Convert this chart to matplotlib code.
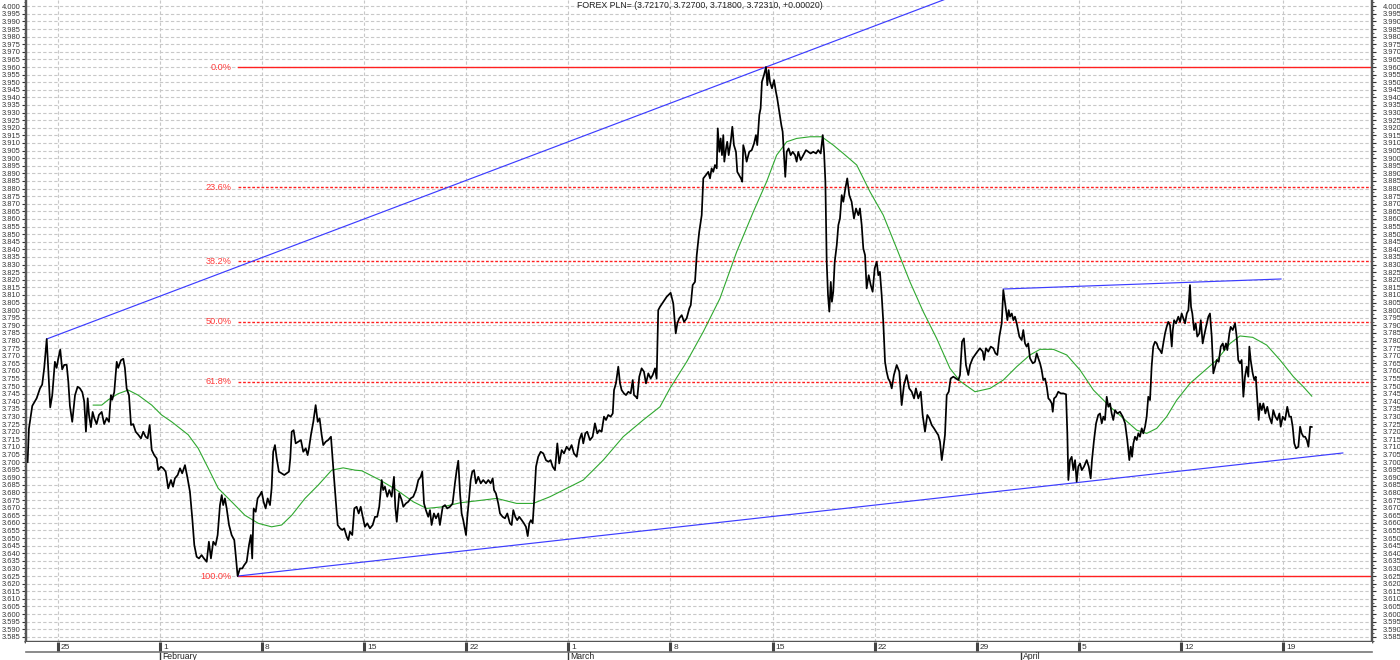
import numpy as np
import matplotlib
matplotlib.use('Agg')
import matplotlib.pyplot as plt
import matplotlib.transforms as mtransforms
from matplotlib.ticker import MultipleLocator, FixedLocator, FormatStrFormatter

plt.rcParams['font.family'] = ['Liberation Sans', 'DejaVu Sans']

# ------------------------------------------------------------------
# data (x = days since Jan 25, y = PLN= quote)
# ------------------------------------------------------------------
price_day = [
    -2.08, -1.99, -1.76, -1.46, -1.23, -1.08, -0.94, -0.77, -0.67, -0.53, -0.39, -0.21, -0.09, 0.02, 0.16,
    0.29, 0.43, 0.60, 0.71, 0.82, 0.98, 1.17, 1.35, 1.51, 1.67, 1.80, 1.92, 2.04, 2.13, 2.26,
    2.38, 2.49, 2.65, 2.81, 3.00, 3.17, 3.34, 3.50, 3.63, 3.72, 3.86, 4.03, 4.13, 4.32, 4.48,
    4.59, 4.71, 4.87, 5.01, 5.16, 5.33, 5.51, 5.69, 5.85, 6.01, 6.15, 6.29, 6.43, 6.60, 6.77,
    6.88, 7.06, 7.22, 7.39, 7.56, 7.75, 7.89, 8.02, 8.21, 8.37, 8.52, 8.71, 8.89, 9.05, 9.21,
    9.35, 9.51, 9.67, 9.85, 10.01, 10.20, 10.35, 10.49, 10.65, 10.81, 10.95, 11.11, 11.23, 11.33, 11.45,
    11.57, 11.73, 11.91, 12.09, 12.19, 12.32, 12.48, 12.64, 12.77, 12.94, 13.10, 13.23, 13.32, 13.42, 13.56,
    13.69, 13.85, 13.97, 14.10, 14.24, 14.38, 14.54, 14.65, 14.76, 14.88, 15.00, 15.15, 15.34, 15.52, 15.68,
    15.84, 15.93, 16.03, 16.16, 16.30, 16.48, 16.66, 16.82, 16.99, 17.12, 17.21, 17.35, 17.51, 17.67, 17.81,
    17.94, 18.08, 18.19, 18.36, 18.53, 18.72, 18.88, 19.04, 19.18, 19.34, 19.49, 19.63, 19.80, 19.91, 20.02,
    20.18, 20.32, 20.48, 20.62, 20.76, 20.90, 21.05, 21.21, 21.39, 21.58, 21.74, 21.89, 22.03, 22.20, 22.30,
    22.42, 22.58, 22.72, 22.88, 23.04, 23.13, 23.23, 23.40, 23.57, 23.68, 23.86, 24.02, 24.18, 24.36, 24.55,
    24.71, 24.87, 24.98, 25.10, 25.23, 25.39, 25.51, 25.62, 25.78, 25.92, 26.08, 26.19, 26.38, 26.54, 26.69,
    26.88, 27.06, 27.22, 27.34, 27.45, 27.57, 27.68, 27.79, 27.98, 28.07, 28.20, 28.30, 28.41, 28.53, 28.66,
    28.82, 28.99, 29.16, 29.35, 29.51, 29.67, 29.81, 29.90, 30.03, 30.19, 30.31, 30.49, 30.65, 30.81, 30.99,
    31.11, 31.22, 31.36, 31.49, 31.63, 31.80, 31.95, 32.09, 32.21, 32.32, 32.43, 32.55, 32.64, 32.78, 32.93,
    33.10, 33.28, 33.46, 33.62, 33.78, 33.92, 34.08, 34.24, 34.37, 34.54, 34.70, 34.88, 35.06, 35.22, 35.38,
    35.57, 35.75, 35.91, 36.02, 36.16, 36.29, 36.48, 36.66, 36.82, 36.98, 37.12, 37.28, 37.44, 37.58, 37.73,
    37.90, 38.04, 38.13, 38.26, 38.42, 38.54, 38.65, 38.81, 38.95, 39.11, 39.27, 39.41, 39.50, 39.63, 39.72,
    39.86, 40.02, 40.18, 40.32, 40.48, 40.64, 40.78, 40.94, 41.05, 41.16, 41.28, 41.51, 41.74, 42.01, 42.19,
    42.36, 42.47, 42.60, 42.77, 42.93, 43.11, 43.29, 43.39, 43.52, 43.68, 43.80, 43.97, 44.14, 44.25, 44.43,
    44.59, 44.71, 44.82, 44.93, 45.05, 45.17, 45.24, 45.35, 45.44, 45.53, 45.62, 45.69, 45.81, 45.89, 45.99,
    46.13, 46.24, 46.35, 46.49, 46.58, 46.70, 46.83, 46.92, 46.99, 47.11, 47.22, 47.40, 47.57, 47.73, 47.86,
    47.95, 48.09, 48.18, 48.27, 48.41, 48.55, 48.64, 48.73, 48.82, 48.96, 49.10, 49.23, 49.32, 49.46, 49.60,
    49.69, 49.78, 49.87, 49.97, 50.10, 50.24, 50.38, 50.54, 50.65, 50.76, 50.93, 51.11, 51.29, 51.45, 51.61,
    51.79, 51.98, 52.13, 52.30, 52.44, 52.53, 52.62, 52.71, 52.80, 52.89, 52.99, 53.07, 53.16, 53.26, 53.40,
    53.51, 53.62, 53.74, 53.85, 53.99, 54.12, 54.26, 54.42, 54.58, 54.72, 54.88, 54.99, 55.11, 55.22, 55.34,
    55.45, 55.59, 55.73, 55.86, 56.00, 56.14, 56.25, 56.36, 56.48, 56.59, 56.71, 56.82, 56.93, 57.05, 57.17,
    57.32, 57.51, 57.69, 57.85, 58.01, 58.19, 58.37, 58.54, 58.70, 58.83, 58.99, 59.16, 59.29, 59.45, 59.61,
    59.75, 59.91, 60.07, 60.21, 60.36, 60.48, 60.60, 60.71, 60.82, 60.94, 61.08, 61.21, 61.39, 61.58, 61.74,
    61.85, 61.99, 62.12, 62.26, 62.42, 62.54, 62.72, 62.88, 63.04, 63.22, 63.41, 63.50, 63.63, 63.79, 63.96,
    64.14, 64.28, 64.41, 64.55, 64.71, 64.82, 65.01, 65.10, 65.19, 65.28, 65.40, 65.51, 65.62, 65.74, 65.92,
    66.08, 66.19, 66.31, 66.42, 66.53, 66.65, 66.84, 66.99, 67.11, 67.22, 67.34, 67.45, 67.56, 67.68, 67.80,
    67.91, 68.02, 68.14, 68.21, 68.30, 68.43, 68.59, 68.76, 68.93, 69.12, 69.21, 69.28, 69.39, 69.51, 69.62,
    69.74, 69.85, 69.96, 70.08, 70.20, 70.35, 70.54, 70.68, 70.81, 70.90, 71.04, 71.18, 71.33, 71.45, 71.57,
    71.68, 71.79, 71.91, 72.02, 72.14, 72.25, 72.36, 72.48, 72.64, 72.82, 73.01, 73.17, 73.32, 73.46, 73.56,
    73.65, 73.74, 73.85, 73.97, 74.08, 74.19, 74.31, 74.42, 74.54, 74.65, 74.76, 74.88, 74.99, 75.10, 75.22,
    75.34, 75.45, 75.56, 75.68, 75.79, 75.91, 76.02, 76.13, 76.25, 76.37, 76.44, 76.53, 76.66, 76.82, 76.94,
    77.05, 77.16, 77.28, 77.40, 77.51, 77.62, 77.69, 77.78, 77.90, 78.01, 78.12, 78.26, 78.36, 78.49, 78.58,
    78.72, 78.88, 78.99, 79.11, 79.22, 79.34, 79.46, 79.59, 79.73, 79.87, 79.96, 80.09, 80.18, 80.32, 80.41,
    80.55, 80.71, 80.82, 80.93, 81.05, 81.16, 81.28, 81.39, 81.51, 81.62, 81.69, 81.78, 81.92, 82.03, 82.13,
    82.24, 82.33, 82.42, 82.54, 82.65, 82.79, 82.92, 83.06, 83.22, 83.33, 83.47, 83.61, 83.75, 83.84, 83.98,
    84.14, 84.29, 84.43, 84.55, 84.66, 84.77, 84.89, 85.05, 85.17, 85.28, 85.40, 85.51, 85.63, 85.74, 85.86,
    85.97,
]
price_val = [
    3.7000, 3.7220, 3.7370, 3.7420, 3.7485, 3.7510, 3.7620, 3.7810, 3.7620, 3.7360, 3.7440, 3.7660, 3.7620, 3.7680, 3.7740,
    3.7610, 3.7640, 3.7640, 3.7530, 3.7370, 3.7265, 3.7440, 3.7496, 3.7485, 3.7460, 3.7400, 3.7200, 3.7420, 3.7310, 3.7230,
    3.7330, 3.7290, 3.7250, 3.7310, 3.7330, 3.7250, 3.7290, 3.7265, 3.7440, 3.7410, 3.7460, 3.7660, 3.7620, 3.7670, 3.7680,
    3.7620, 3.7485, 3.7440, 3.7244, 3.7250, 3.7200, 3.7180, 3.7156, 3.7200, 3.7167, 3.7156, 3.7244, 3.7080, 3.7046, 3.7024,
    3.6947, 3.6970, 3.6959, 3.6937, 3.6827, 3.6882, 3.6838, 3.6893, 3.6915, 3.6959, 3.6926, 3.6980, 3.6893, 3.6805, 3.6630,
    3.6454, 3.6377, 3.6366, 3.6388, 3.6366, 3.6344, 3.6476, 3.6366, 3.6476, 3.6454, 3.6520, 3.6717, 3.6783, 3.6717, 3.6761,
    3.6695, 3.6586, 3.6520, 3.6487, 3.6388, 3.6250, 3.6300, 3.6300, 3.6322, 3.6344, 3.6454, 3.6520, 3.6366, 3.6695, 3.6673,
    3.6761, 3.6783, 3.6805, 3.6739, 3.6695, 3.6761, 3.6717, 3.6827, 3.7068, 3.7112, 3.7024, 3.6937, 3.6926, 3.6915, 3.6926,
    3.6937, 3.7024, 3.7200, 3.7210, 3.7123, 3.7134, 3.7145, 3.7068, 3.7090, 3.7046, 3.7090, 3.7180, 3.7265, 3.7375, 3.7265,
    3.7288, 3.7180, 3.7112, 3.7134, 3.7145, 3.7167, 3.6959, 3.6761, 3.6586, 3.6564, 3.6553, 3.6564, 3.6509, 3.6487, 3.6542,
    3.6520, 3.6695, 3.6706, 3.6662, 3.6706, 3.6640, 3.6574, 3.6597, 3.6564, 3.6586, 3.6640, 3.6640, 3.6706, 3.6882, 3.6816,
    3.6838, 3.6772, 3.6816, 3.6772, 3.6903, 3.6706, 3.6607, 3.6794, 3.6750, 3.6706, 3.6728, 3.6739, 3.6761, 3.6772, 3.6816,
    3.6882, 3.6903, 3.6937, 3.6728, 3.6684, 3.6640, 3.6684, 3.6586, 3.6662, 3.6630, 3.6662, 3.6586, 3.6706, 3.6717, 3.6695,
    3.6706, 3.6728, 3.6860, 3.6947, 3.7009, 3.6794, 3.6662, 3.6618, 3.6520, 3.6640, 3.6772, 3.6882, 3.6937, 3.6947, 3.6860,
    3.6903, 3.6860, 3.6882, 3.6860, 3.6882, 3.6860, 3.6893, 3.6816, 3.6794, 3.6728, 3.6662, 3.6640, 3.6630, 3.6662, 3.6597,
    3.6586, 3.6684, 3.6640, 3.6618, 3.6640, 3.6618, 3.6597, 3.6574, 3.6513, 3.6597, 3.6618, 3.6597, 3.6728, 3.6970, 3.7035,
    3.7068, 3.7057, 3.7013, 3.7002, 3.7013, 3.6970, 3.6947, 3.7123, 3.6991, 3.7079, 3.7057, 3.7101, 3.7079, 3.7112, 3.7057,
    3.7035, 3.7145, 3.7189, 3.7123, 3.7189, 3.7200, 3.7145, 3.7167, 3.7255, 3.7189, 3.7210, 3.7200, 3.7299, 3.7277, 3.7310,
    3.7299, 3.7320, 3.7474, 3.7518, 3.7628, 3.7518, 3.7474, 3.7452, 3.7441, 3.7463, 3.7452, 3.7540, 3.7441, 3.7430, 3.7419,
    3.7562, 3.7617, 3.7595, 3.7518, 3.7584, 3.7550, 3.7573, 3.7617, 3.7550, 3.8000, 3.8022, 3.8055, 3.8088, 3.8114, 3.8044,
    3.7847, 3.7913, 3.7946, 3.7967, 3.7923, 3.7946, 3.8011, 3.8033, 3.8165, 3.8186, 3.8362, 3.8515, 3.8625, 3.8867, 3.8889,
    3.8910, 3.8867, 3.8933, 3.8910, 3.8955, 3.8933, 3.9196, 3.9042, 3.9130, 3.9020, 3.9152, 3.8977, 3.9064, 3.9108, 3.9020,
    3.9108, 3.9207, 3.9086, 3.9042, 3.8910, 3.8889, 3.8867, 3.8845, 3.9086, 3.9042, 3.8977, 3.9042, 3.9053, 3.9097, 3.9152,
    3.9086, 3.9284, 3.9328, 3.9503, 3.9547, 3.9600, 3.9480, 3.9580, 3.9503, 3.9459, 3.9514, 3.9437, 3.9393, 3.9306, 3.9218,
    3.9174, 3.9020, 3.8877, 3.9042, 3.9064, 3.9020, 3.9042, 3.9020, 3.8977, 3.9042, 3.8988, 3.9020, 3.9053, 3.9042, 3.9031,
    3.9042, 3.9031, 3.9053, 3.9031, 3.9152, 3.9042, 3.8845, 3.8318, 3.8099, 3.7990, 3.8186, 3.8055, 3.8121, 3.8318, 3.8428,
    3.8560, 3.8603, 3.8757, 3.8713, 3.8801, 3.8867, 3.8757, 3.8713, 3.8603, 3.8669, 3.8625, 3.8669, 3.8560, 3.8406, 3.8362,
    3.8143, 3.8230, 3.8165, 3.8121, 3.8275, 3.8318, 3.8230, 3.8252, 3.8099, 3.7923, 3.7660, 3.7595, 3.7550, 3.7529, 3.7485,
    3.7573, 3.7639, 3.7595, 3.7375, 3.7507, 3.7573, 3.7485, 3.7463, 3.7419, 3.7485, 3.7419, 3.7463, 3.7310, 3.7200, 3.7310,
    3.7288, 3.7244, 3.7222, 3.7200, 3.7178, 3.7134, 3.7013, 3.7090, 3.7178, 3.7441, 3.7463, 3.7550, 3.7562, 3.7550, 3.7540,
    3.7573, 3.7792, 3.7814, 3.7639, 3.7573, 3.7639, 3.7683, 3.7705, 3.7727, 3.7749, 3.7727, 3.7672, 3.7749, 3.7727, 3.7760,
    3.7749, 3.7716, 3.7705, 3.7826, 3.7913, 3.8132, 3.8000, 3.7934, 3.8000, 3.7957, 3.7978, 3.7934, 3.7957, 3.7913, 3.7826,
    3.7803, 3.7869, 3.7781, 3.7760, 3.7781, 3.7683, 3.7650, 3.7660, 3.7716, 3.7683, 3.7650, 3.7606, 3.7540, 3.7550, 3.7496,
    3.7419, 3.7408, 3.7386, 3.7331, 3.7419, 3.7430, 3.7463, 3.7452, 3.7452, 3.7446, 3.7189, 3.6882, 3.7013, 3.7035, 3.6947,
    3.7013, 3.6871, 3.6970, 3.6991, 3.6947, 3.6970, 3.7013, 3.6970, 3.6893, 3.7013, 3.7145, 3.7255, 3.7310, 3.7320, 3.7255,
    3.7299, 3.7277, 3.7430, 3.7364, 3.7386, 3.7320, 3.7277, 3.7342, 3.7320, 3.7331, 3.7299, 3.7255, 3.7145, 3.7013, 3.7101,
    3.7035, 3.7123, 3.7167, 3.7145, 3.7189, 3.7167, 3.7222, 3.7189, 3.7233, 3.7299, 3.7430, 3.7408, 3.7628, 3.7760, 3.7792,
    3.7781, 3.7749, 3.7737, 3.7716, 3.7781, 3.7847, 3.7890, 3.7923, 3.7902, 3.7760, 3.7869, 3.7934, 3.7913, 3.7957, 3.7923,
    3.7978, 3.7946, 3.7913, 3.7978, 3.8000, 3.8165, 3.8022, 3.7978, 3.7869, 3.7913, 3.7826, 3.7847, 3.7934, 3.7781, 3.7826,
    3.7890, 3.7957, 3.7978, 3.7826, 3.7584, 3.7628, 3.7672, 3.7660, 3.7760, 3.7781, 3.7737, 3.7781, 3.7737, 3.7847, 3.7890,
    3.7869, 3.7913, 3.7826, 3.7672, 3.7650, 3.7672, 3.7430, 3.7562, 3.7628, 3.7562, 3.7760, 3.7672, 3.7584, 3.7540, 3.7562,
    3.7408, 3.7277, 3.7386, 3.7342, 3.7386, 3.7320, 3.7364, 3.7299, 3.7255, 3.7342, 3.7299, 3.7277, 3.7320, 3.7233, 3.7299,
    3.7277, 3.7364, 3.7299, 3.7299, 3.7233, 3.7123, 3.7090, 3.7101, 3.7233, 3.7189, 3.7167, 3.7167, 3.7145, 3.7101, 3.7233,
    3.7231,
]

# moving average (green)
ma_day = [
    2.42, 3.00, 3.45, 4.13, 4.82, 5.51, 6.43, 7.11, 7.80, 8.93, 9.62, 10.31, 10.99, 11.91, 12.82,
    13.74, 14.65, 15.34, 16.03, 16.94, 17.85, 18.77, 19.56, 20.37, 20.83, 22.08, 23.23, 24.36, 25.28, 26.42,
    27.57, 28.71, 30.08, 31.45, 32.59, 33.74, 34.88, 36.02, 37.39, 38.76, 40.13, 41.28, 41.96, 43.11, 44.25,
    45.39, 46.54, 47.68, 48.59, 49.28, 49.97, 50.65, 51.57, 52.37, 53.16, 53.85, 54.77, 55.68, 56.59, 57.51,
    58.42, 59.33, 60.25, 61.16, 61.85, 62.88, 63.91, 64.82, 65.74, 66.65, 67.34, 68.25, 69.17, 70.08, 71.00,
    72.14, 73.05, 73.97, 74.65, 75.34, 76.02, 76.71, 77.62, 78.54, 79.46, 80.37, 81.05, 81.92, 82.88, 83.79,
    84.71, 85.39, 85.97,
]
ma_val = [
    3.7375, 3.7375, 3.7410, 3.7450, 3.7474, 3.7440, 3.7375, 3.7310, 3.7265, 3.7180, 3.7090, 3.6959, 3.6827, 3.6739, 3.6650,
    3.6597, 3.6574, 3.6586, 3.6650, 3.6761, 3.6849, 3.6947, 3.6962, 3.6947, 3.6943, 3.6882, 3.6816, 3.6739, 3.6695, 3.6706,
    3.6732, 3.6745, 3.6761, 3.6728, 3.6728, 3.6772, 3.6827, 3.6882, 3.7013, 3.7167, 3.7277, 3.7364, 3.7485, 3.7660, 3.7858,
    3.8077, 3.8384, 3.8647, 3.8845, 3.9020, 3.9108, 3.9130, 3.9141, 3.9141, 3.9086, 3.9031, 3.8955, 3.8779, 3.8625, 3.8406,
    3.8186, 3.7990, 3.7814, 3.7617, 3.7533, 3.7463, 3.7485, 3.7540, 3.7628, 3.7705, 3.7742, 3.7742, 3.7705, 3.7606, 3.7474,
    3.7364, 3.7288, 3.7210, 3.7189, 3.7222, 3.7299, 3.7408, 3.7518, 3.7595, 3.7672, 3.7781, 3.7830, 3.7821, 3.7770, 3.7672,
    3.7562, 3.7496, 3.7434,
]

# trend lines: (day, price) anchors
upper_trend = [(-0.77, 3.781), (48.55, 3.960)]
lower_trend = [(12.32, 3.625), (88.10, 3.706)]
upper_right = [(64.82, 3.8139), (83.86, 3.8205)]

# fibonacci retracement
fib_high = 3.960
fib_low = 3.625
fib_start = 12.32
fib_pcts = [0.0, 23.6, 38.2, 50.0, 61.8, 100.0]

# axis
week_days = [0, 7, 14, 21, 28, 35, 42, 49, 56, 63, 70, 77, 84]
week_labels = ['25', '1', '8', '15', '22', '1', '8', '15', '22', '29', '5', '12', '19']
month_days = [7, 35, 66]
month_labels = ['February', 'March', 'April']
title = 'FOREX PLN= (3.72170, 3.72700, 3.71800, 3.72310, +0.00020)'

x_min, x_max = -2.19, 90.1
y_min, y_max = 3.5816, 4.0041

# ------------------------------------------------------------------
fig = plt.figure(figsize=(14, 6.6), dpi=100)
ax = fig.add_axes([26 / 1400, 18 / 660, 1346 / 1400, 642 / 660])
ax.set_xlim(x_min, x_max)
ax.set_ylim(y_min, y_max)

grid_kw = dict(color='#c8c8c8', linewidth=0.8, linestyle=(0, (3, 2)))
ax.yaxis.set_major_locator(MultipleLocator(0.005))
ax.yaxis.set_minor_locator(MultipleLocator(0.0025))
ax.yaxis.set_major_formatter(FormatStrFormatter('%.3f'))
ax.xaxis.set_major_locator(FixedLocator(week_days))
ax.grid(True, which='major', **grid_kw)
ax.set_axisbelow(True)
ax.tick_params(axis='x', length=0, labelbottom=False)
ax.tick_params(axis='y', which='major', length=3, width=0.8, pad=1,
               labelsize=5.4, labelcolor='#333333', color='#333333')
ax.tick_params(axis='y', which='minor', length=1.5, width=0.6, color='#333333')

ax_r = ax.twinx()
ax_r.set_ylim(y_min, y_max)
ax_r.yaxis.set_major_locator(MultipleLocator(0.005))
ax_r.yaxis.set_minor_locator(MultipleLocator(0.0025))
ax_r.yaxis.set_major_formatter(FormatStrFormatter('%.3f'))
ax_r.tick_params(axis='y', which='major', length=3, width=0.8, pad=5,
                 labelsize=5.4, labelcolor='#333333', color='#333333')
ax_r.tick_params(axis='y', which='minor', length=1.5, width=0.6, color='#333333')

for a in (ax, ax_r):
    a.spines['top'].set_visible(False)
    for s in ('left', 'right', 'bottom'):
        a.spines[s].set_color('#555555')
        a.spines[s].set_linewidth(1.6)

# fibonacci levels
rng = fib_high - fib_low
for pct in fib_pcts:
    level = fib_high - rng * pct / 100.0
    solid = pct in (0.0, 100.0)
    ax.plot([fib_start, x_max], [level, level], color='#ff2020',
            linewidth=1.0,
            linestyle='-' if solid else (0, (2, 1.3)), zorder=2)
    ax.text(fib_start - 0.4, level, f'{pct:.1f}%', ha='right', va='center',
            color='#ff3b3b', fontsize=6.6, zorder=3)

# trend lines
(ux0, uy0), (ux1, uy1) = upper_trend
slope = (uy1 - uy0) / (ux1 - ux0)
ux_end = ux0 + (y_max + 0.01 - uy0) / slope
ax.plot([ux0, ux_end], [uy0, uy0 + slope * (ux_end - ux0)], color='#3c3cff', linewidth=0.85, zorder=3)
ax.plot([p[0] for p in lower_trend], [p[1] for p in lower_trend], color='#3c3cff', linewidth=0.85, zorder=3)
ax.plot([p[0] for p in upper_right], [p[1] for p in upper_right], color='#3c3cff', linewidth=0.85, zorder=3)

# moving average and price
ax.plot(ma_day, ma_val, color='#2fa82f', linewidth=0.8, zorder=4)
ax.plot(price_day, price_val, color='black', linewidth=1.25, zorder=5)

# bottom date band
band = fig.add_axes([26 / 1400, 8 / 660, 1346 / 1400, 10 / 660])
band.set_xlim(x_min, x_max)
band.set_ylim(0, 1)
band.set_xticks([])
band.set_yticks([])
for s in ('left', 'right', 'top'):
    band.spines[s].set_visible(False)
band.spines['bottom'].set_color('#777777')
band.spines['bottom'].set_linewidth(1.2)
for d, lbl in zip(week_days, week_labels):
    band.plot([d, d], [0, 1], color='#444444', linewidth=2.2, solid_capstyle='butt')
    band.text(d + 0.2, 0.45, lbl, ha='left', va='center', fontsize=6.0, color='#333333')

trans = mtransforms.blended_transform_factory(band.transData, band.transAxes)
for d, lbl in zip(month_days, month_labels):
    band.plot([d, d], [-0.9, 0], color='#333333', linewidth=1.0, transform=trans, clip_on=False)
    band.text(d + 0.15, -0.45, lbl, ha='left', va='center', fontsize=6.2,
              color='#222222', transform=trans, clip_on=False)

fig.text(0.5, 1 - 5 / 660, title, ha='center', va='center', fontsize=6.3, color='#222222')

fig.savefig('out.png', dpi=100)
